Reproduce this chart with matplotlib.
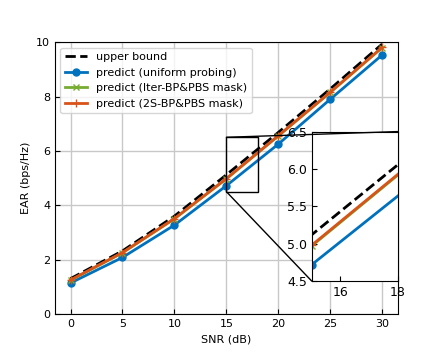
import numpy as np
import matplotlib.pyplot as plt
from matplotlib.patches import ConnectionPatch

snr = [0, 5, 10, 15, 20, 25, 30]
upper_bound = [1.30, 2.32, 3.60, 5.12, 6.68, 8.28, 9.93]
uniform = [1.14, 2.08, 3.27, 4.72, 6.25, 7.90, 9.53]
iter_mask = [1.24, 2.25, 3.50, 4.97, 6.55, 8.15, 9.80]
two_stage = [1.25, 2.26, 3.51, 4.98, 6.56, 8.16, 9.81]

labels = ['upper bound', 'predict (uniform probing)',
          'predict (Iter-BP&PBS mask)', 'predict (2S-BP&PBS mask)']

c_blue = '#0072BD'
c_green = '#77AC30'
c_orange = '#D95319'

plt.rcParams['font.size'] = 8

fig = plt.figure(figsize=(4.43, 3.54), dpi=100)
ax = fig.add_axes([0.124, 0.113, 0.774, 0.768])


def draw(a):
    a.plot(snr, upper_bound, '--', color='black', lw=2, label=labels[0])
    a.plot(snr, uniform, '-o', color=c_blue, lw=2, ms=5, label=labels[1])
    a.plot(snr, iter_mask, '-x', color=c_green, lw=2, ms=5, label=labels[2])
    a.plot(snr, two_stage, '-+', color=c_orange, lw=2, ms=6, label=labels[3])


draw(ax)
ax.set_xlim(-1.5, 31.5)
ax.set_ylim(0, 10)
ax.set_xticks(snr)
ax.set_yticks([0, 2, 4, 6, 8, 10])
ax.grid(True, color='#c8c8c8', lw=1)
ax.tick_params(direction='in')
ax.set_xlabel('SNR (dB)')
ax.set_ylabel('EAR (bps/Hz)')
ax.legend(loc='upper left', fontsize=8)

axins = ax.inset_axes([0.749, 0.121, 0.251, 0.55])
draw(axins)
axins.set_xlim(15, 18)
axins.set_ylim(4.5, 6.5)
axins.set_xticks([16, 18])
axins.set_yticks([4.5, 5.0, 5.5, 6.0, 6.5])
axins.tick_params(direction='in', labelsize=9)

# zoom box plus the two connector lines
ind = ax.indicate_inset_zoom(axins, edgecolor='black', alpha=1, lw=1)
for c in ind.connectors:
    c.set_visible(False)
for xy_main, xy_ins in [((15, 6.5), (1, 1)), ((15, 4.5), (0, 0))]:
    con = ConnectionPatch(xyA=xy_main, coordsA=ax.transData,
                          xyB=xy_ins, coordsB=axins.transAxes,
                          color='black', lw=1)
    fig.add_artist(con)

fig.savefig('out.png', dpi=100)
